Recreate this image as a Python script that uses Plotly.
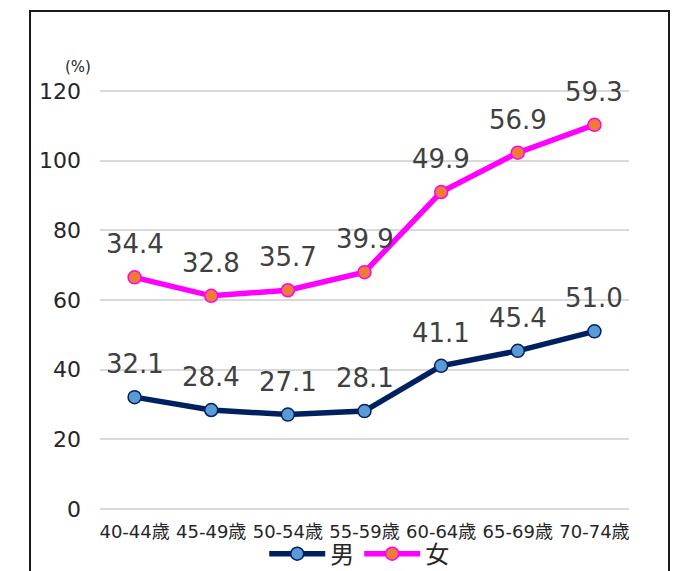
import plotly.graph_objects as go

categories = ["40-44歳", "45-49歳", "50-54歳", "55-59歳", "60-64歳", "65-69歳", "70-74歳"]
male = [32.1, 28.4, 27.1, 28.1, 41.1, 45.4, 51.0]
female = [34.4, 32.8, 35.7, 39.9, 49.9, 56.9, 59.3]
y_ticks = [0, 20, 40, 60, 80, 100, 120]

FONT = "DejaVu Sans, Noto Sans CJK JP"
NAVY = "#002060"
LBLUE = "#5B9BD5"
MAG = "#FF00FF"
ORANGE = "#ED7D31"
GRID = "#d9d9d9"

fig = go.Figure()
fig.add_trace(go.Scatter(
    x=categories, y=male, name="男", mode="lines+markers",
    stackgroup="one", fill="none",
    line=dict(color=NAVY, width=5.5),
    marker=dict(size=13, color=LBLUE, line=dict(color=NAVY, width=1.5)),
))
fig.add_trace(go.Scatter(
    x=categories, y=female, name="女", mode="lines+markers",
    stackgroup="one", fill="none",
    line=dict(color=MAG, width=5.5),
    marker=dict(size=13, color=ORANGE, line=dict(color=MAG, width=1.5)),
))

annotations = []
for c, m, f in zip(categories, male, female):
    annotations.append(dict(x=c, y=m, text=f"{m:.1f}", showarrow=False, yshift=33,
                            font=dict(family=FONT, size=26, color="#404040")))
    annotations.append(dict(x=c, y=m + f, text=f"{f:.1f}", showarrow=False, yshift=33,
                            font=dict(family=FONT, size=26, color="#404040")))
annotations.append(dict(xref="paper", yref="paper", x=-0.0416, y=1.0548, text="(%)",
                        xanchor="center", yanchor="middle",
                        showarrow=False, font=dict(family=FONT, size=15, color="#262626")))

fig.update_layout(
    width=691, height=571,
    margin=dict(l=100, r=62, t=90, b=61, autoexpand=False),
    paper_bgcolor="white", plot_bgcolor="white",
    font=dict(family=FONT, color="#262626"),
    showlegend=True,
    legend=dict(orientation="h", x=0.49, xanchor="center", y=-0.105, yanchor="middle",
                bgcolor="rgba(0,0,0,0)",
                font=dict(family=FONT, size=24, color="#262626"),
                itemwidth=56, tracegroupgap=0, traceorder="normal"),
    annotations=annotations,
    shapes=[dict(type="rect", xref="paper", yref="paper",
                 x0=-0.1323, x1=1.0756, y0=-0.2, y1=1.188,
                 line=dict(color="#1a1a1a", width=2), layer="below")],
)
fig.update_xaxes(showgrid=False, showline=False, ticks="",
                 tickfont=dict(family=FONT, size=18, color="#262626"), ticklabelstandoff=9)
fig.update_yaxes(range=[-0.3, 120.3], tickvals=y_ticks, showgrid=True, gridcolor=GRID,
                 gridwidth=1.5, zeroline=True, zerolinecolor=GRID, zerolinewidth=1.5,
                 showline=False, ticks="",
                 tickfont=dict(family=FONT, size=22, color="#262626"), ticklabelstandoff=18)

fig.write_html("out.html")
